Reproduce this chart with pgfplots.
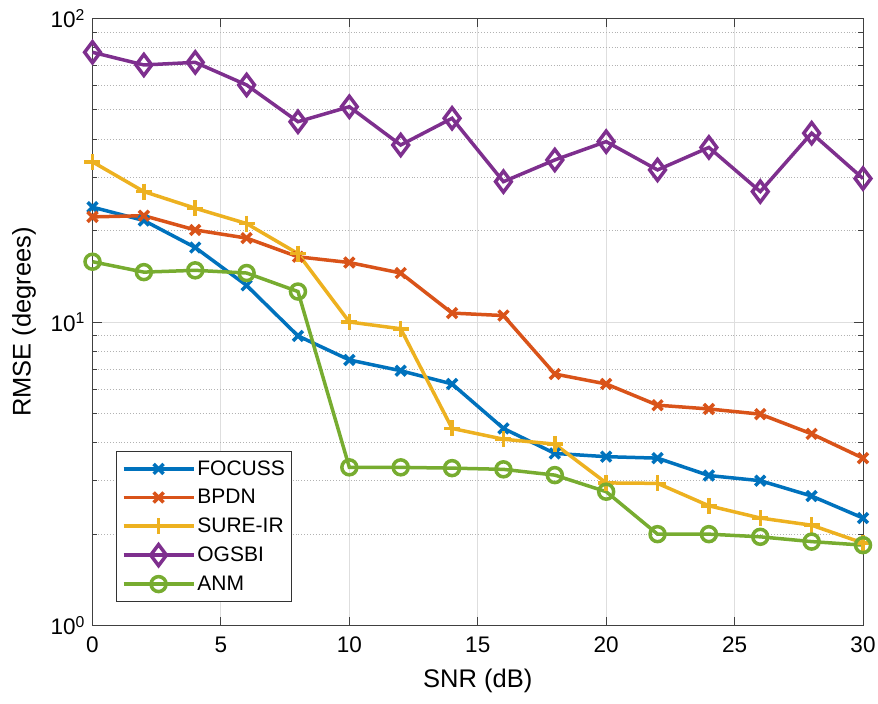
\documentclass[border=0pt]{standalone}
\usepackage{pgfplots}
\pgfplotsset{compat=1.18}
\usepackage{fontspec}
\setmainfont{Liberation Sans}

\definecolor{mblue}{rgb}{0,0.447,0.741}
\definecolor{morange}{rgb}{0.85,0.325,0.098}
\definecolor{myellow}{rgb}{0.929,0.694,0.125}
\definecolor{mpurple}{rgb}{0.494,0.184,0.556}
\definecolor{mgreen}{rgb}{0.466,0.674,0.188}

\begin{document}
\begin{tikzpicture}
\begin{axis}[
  scale only axis,
  width=770.5pt, height=607pt,
  ymode=log,
  xmin=0, xmax=30, ymin=1, ymax=100,
  xtick={0,5,10,15,20,25,30},
  ytick={1,10,100},
  yticklabels={10\textsuperscript{0},10\textsuperscript{1},10\textsuperscript{2}},
  /pgf/number format/assume math mode=true,
  tick label style={font=\fontsize{22.5}{26}\selectfont},
  xticklabel style={yshift=-8pt},
  yticklabel style={xshift=-4pt},
  label style={font=\fontsize{25.5}{29}\selectfont},
  xlabel={SNR (dB)},
  ylabel={RMSE (degrees)},
  xlabel style={yshift=-9pt},
  ylabel style={yshift=8pt},
  tick align=inside,
  major tick length=9pt,
  minor tick length=5pt,
  axis line style={black!75, line width=0.9pt},
  every tick/.style={black!75, line width=0.9pt},
  grid=both,
  xminorgrids=false,
  major grid style={black!13, line width=0.9pt},
  minor grid style={black!30, line width=0.9pt, dotted},
  legend style={at={(0.031,0.0395)}, anchor=south west,
    font=\fontsize{21}{24}\selectfont, draw=black!80, line width=0.9pt,
    row sep=8.5pt, inner xsep=5pt, inner ysep=7pt},
  legend cell align=left,
  legend image code/.code={%
    \draw[mark repeat=2,mark phase=2] plot coordinates {(0pt,0pt) (35pt,0pt) (70pt,0pt)};},
  every axis plot/.append style={line width=3.5pt},
  clip=false,
]
% FOCUSS
\addplot[mblue, mark=x, mark size=7pt, mark options={line width=3.5pt}] coordinates {
(0,23.9) (2,21.6) (4,17.6) (6,13.2) (8,9.0) (10,7.5) (12,6.91) (14,6.25)
(16,4.46) (18,3.69) (20,3.60) (22,3.56) (24,3.12) (26,3.00) (28,2.67) (30,2.26)};
\addlegendentry{FOCUSS}
% BPDN
\addplot[morange, mark=x, mark size=7pt, mark options={line width=3.5pt}] coordinates {
(0,22.2) (2,22.4) (4,20.1) (6,18.9) (8,16.4) (10,15.7) (12,14.5) (14,10.7)
(16,10.5) (18,6.74) (20,6.25) (22,5.32) (24,5.17) (26,4.97) (28,4.28) (30,3.56)};
\addlegendentry{BPDN}
% SURE-IR
\addplot[myellow, mark=+, mark size=8pt, mark options={line width=3.5pt}] coordinates {
(0,33.7) (2,26.9) (4,23.7) (6,21.1) (8,16.8) (10,10.0) (12,9.5) (14,4.46)
(16,4.11) (18,3.96) (20,2.95) (22,2.94) (24,2.48) (26,2.26) (28,2.14) (30,1.87)};
\addlegendentry{SURE-IR}
% OGSBI
\addplot[mpurple, mark=diamond, mark size=10.5pt, mark options={line width=3.5pt}] coordinates {
(0,77.4) (2,70.3) (4,71.7) (6,60.4) (8,45.7) (10,51.2) (12,38.3) (14,46.9)
(16,29.0) (18,34.2) (20,39.3) (22,31.7) (24,37.6) (26,26.9) (28,41.9) (30,29.7)};
\addlegendentry{OGSBI}
% ANM
\addplot[mgreen, mark=o, mark size=7.5pt, mark options={line width=3.5pt}] coordinates {
(0,15.8) (2,14.6) (4,14.8) (6,14.5) (8,12.6) (10,3.32) (12,3.32) (14,3.30)
(16,3.27) (18,3.13) (20,2.76) (22,2.00) (24,2.00) (26,1.96) (28,1.89) (30,1.84)};
\addlegendentry{ANM}
\end{axis}
\pgfresetboundingbox
\path (current axis.south west) ++(-92.5pt,-78.5pt) coordinate (bbl);
\path (current axis.north east) ++(15pt,18.5pt) coordinate (btr);
\path[use as bounding box] (bbl) rectangle (btr);
\end{tikzpicture}
\end{document}
